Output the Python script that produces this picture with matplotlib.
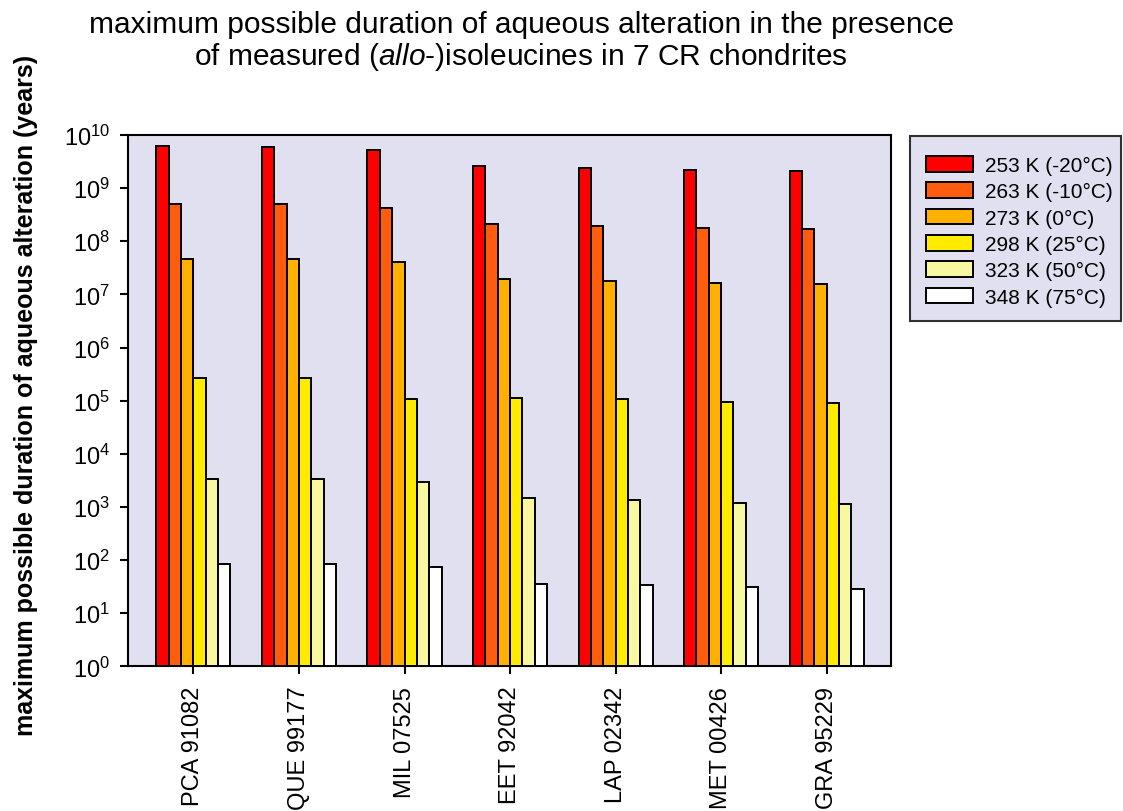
import numpy as np
import matplotlib
matplotlib.use("Agg")
import matplotlib.pyplot as plt
from matplotlib.patches import Rectangle
from matplotlib.ticker import LogLocator, FuncFormatter, NullLocator

plt.rcParams['font.family'] = ['Liberation Sans', 'DejaVu Sans']
plt.rcParams['mathtext.fontset'] = 'custom'
plt.rcParams['mathtext.rm'] = 'Liberation Sans'
plt.rcParams['mathtext.it'] = 'Liberation Sans:italic'
plt.rcParams['mathtext.default'] = 'regular'

# meteorites (CR chondrites)
samples = ["PCA 91082", "QUE 99177", "MIL 07525", "EET 92042",
           "LAP 02342", "MET 00426", "GRA 95229"]

temps = ["253 K (-20°C)", "263 K (-10°C)", "273 K (0°C)",
         "298 K (25°C)", "323 K (50°C)", "348 K (75°C)"]

# maximum duration (years) for each temperature, one value per sample
t253 = [6.3e9, 6.0e9, 5.3e9, 2.65e9, 2.4e9, 2.2e9, 2.14e9]
t263 = [5.0e8, 5.0e8, 4.25e8, 2.1e8, 1.92e8, 1.78e8, 1.7e8]
t273 = [4.7e7, 4.7e7, 4.0e7, 1.96e7, 1.8e7, 1.64e7, 1.6e7]
t298 = [2.7e5, 2.7e5, 1.06e5, 1.1e5, 1.06e5, 9.5e4, 8.9e4]
t323 = [3.4e3, 3.4e3, 3.0e3, 1.44e3, 1.35e3, 1.18e3, 1.12e3]
t348 = [84, 82, 72, 35, 33, 29.6, 28]

series = [t253, t263, t273, t298, t323, t348]
colors = ["#FF0000", "#FF5C0E", "#FFB000", "#FFEB00", "#F8F8A0", "#FFFFFF"]

W, H = 1123, 812
fig = plt.figure(figsize=(W / 100, H / 100), dpi=100)
ax = fig.add_axes([0.114, 0.1782, 0.6794, 0.6543])
ax.set_facecolor("#E0E0F0")

x = np.arange(len(samples))
w = 0.117
for i, (vals, c) in enumerate(zip(series, colors)):
    offs = (i - 2.5) * w
    ax.bar(x + offs, vals, width=w, bottom=1, color=c, edgecolor="black",
           linewidth=1.4, label=temps[i], zorder=3)

ax.set_yscale("log")
ax.set_ylim(1, 1e10)
ax.set_xlim(-0.62, 6.61)
ax.yaxis.set_major_locator(LogLocator(base=10, numticks=20))
ax.yaxis.set_minor_locator(NullLocator())
ax.yaxis.set_major_formatter(FuncFormatter(lambda v, p: r"$10^{%d}$" % round(np.log10(v))))

ax.set_xticks(x)
ax.set_xticklabels(samples, rotation=90, fontsize=17)
ax.tick_params(axis="y", labelsize=17, direction="out", length=6, width=1.5, pad=7)
ax.tick_params(axis="x", direction="out", length=6, width=1.5, pad=8)

for s in ax.spines.values():
    s.set_linewidth(1.5)

ax.set_ylabel("maximum possible duration of aqueous alteration (years)",
              fontsize=18, fontweight="bold")
ax.yaxis.set_label_coords(-0.118, 0.5125)

fig.text(0.464, 0.986, "maximum possible duration of aqueous alteration in the presence",
         ha="center", va="top", fontsize=21.5)
fig.text(0.464, 0.950, "of measured (" + r"$\it{allo}$" + "-)isoleucines in 7 CR chondrites",
         ha="center", va="top", fontsize=21.5)

# legend box drawn separately so its padding can be set exactly
box = Rectangle((910 / W, 1 - 322 / H), 211 / W, 185 / H, transform=fig.transFigure,
                facecolor="#E0E0F0", edgecolor="#303030", linewidth=1.5)
fig.patches.append(box)
leg = fig.legend(loc="upper left", bbox_to_anchor=(926 / W, 1 - 157 / H),
                 fontsize=15, frameon=False, handlelength=2.26,
                 handleheight=0.77, labelspacing=0.35, borderpad=0,
                 handletextpad=0.58, borderaxespad=0)

fig.savefig("out.png", dpi=100)
